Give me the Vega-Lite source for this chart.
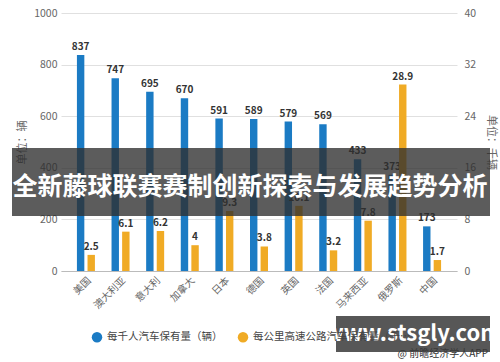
{
  "$schema": "https://vega.github.io/schema/vega-lite/v6.json",
  "width": 396,
  "height": 258,
  "padding": {"left": 12, "right": 5, "top": 8, "bottom": 5},
  "background": "white",
  "config": {
    "view": {"stroke": null},
    "font": "Noto Sans CJK SC",
    "axis": {"labelColor": "#666", "labelFontSize": 10.5, "titleColor": "#666", "titleFontSize": 11, "titleFontWeight": "normal", "gridColor": "#e0e0e0", "tickColor": "#cccccc", "domainColor": "#bbbbbb"}
  },
  "datasets": {
    "bars": [
      {"country": "美国", "series": "每千人汽车保有量（辆）", "value": 837},
      {"country": "澳大利亚", "series": "每千人汽车保有量（辆）", "value": 747},
      {"country": "意大利", "series": "每千人汽车保有量（辆）", "value": 695},
      {"country": "加拿大", "series": "每千人汽车保有量（辆）", "value": 670},
      {"country": "日本", "series": "每千人汽车保有量（辆）", "value": 591},
      {"country": "德国", "series": "每千人汽车保有量（辆）", "value": 589},
      {"country": "英国", "series": "每千人汽车保有量（辆）", "value": 579},
      {"country": "法国", "series": "每千人汽车保有量（辆）", "value": 569},
      {"country": "马来西亚", "series": "每千人汽车保有量（辆）", "value": 433},
      {"country": "俄罗斯", "series": "每千人汽车保有量（辆）", "value": 373},
      {"country": "中国", "series": "每千人汽车保有量（辆）", "value": 173},
      {"country": "美国", "series": "每公里高速公路汽车保有量（千辆）", "value": 2.5},
      {"country": "澳大利亚", "series": "每公里高速公路汽车保有量（千辆）", "value": 6.1},
      {"country": "意大利", "series": "每公里高速公路汽车保有量（千辆）", "value": 6.2},
      {"country": "加拿大", "series": "每公里高速公路汽车保有量（千辆）", "value": 4},
      {"country": "日本", "series": "每公里高速公路汽车保有量（千辆）", "value": 9.3},
      {"country": "德国", "series": "每公里高速公路汽车保有量（千辆）", "value": 3.8},
      {"country": "英国", "series": "每公里高速公路汽车保有量（千辆）", "value": 10.1},
      {"country": "法国", "series": "每公里高速公路汽车保有量（千辆）", "value": 3.2},
      {"country": "马来西亚", "series": "每公里高速公路汽车保有量（千辆）", "value": 7.8},
      {"country": "俄罗斯", "series": "每公里高速公路汽车保有量（千辆）", "value": 28.9},
      {"country": "中国", "series": "每公里高速公路汽车保有量（千辆）", "value": 1.7}
    ],
    "banner": [{"text": "全新藤球联赛赛制创新探索与发展趋势分析"}],
    "mark": [{"text": "www.stsgly.com", "credit": "@ 前瞻经济学人APP"}]
  },
  "layer": [
    {
      "data": {"name": "bars"},
      "transform": [{"filter": "datum.series === '每千人汽车保有量（辆）'"}],
      "encoding": {
        "x": {
          "field": "country", "type": "nominal", "sort": null,
          "scale": {"paddingInner": 0.48, "paddingOuter": 0.46},
          "axis": {"title": null, "labelAngle": -45, "ticks": false, "labelPadding": 4, "domain": true, "grid": false, "labelFontSize": 10}
        },
        "xOffset": {"field": "series", "type": "nominal", "sort": null, "scale": {"domain": ["每千人汽车保有量（辆）", "每公里高速公路汽车保有量（千辆）"], "paddingInner": 0.3}},
        "y": {
          "field": "value", "type": "quantitative",
          "scale": {"domain": [0, 1000]},
          "axis": {"title": "单位：辆", "values": [0, 200, 400, 600, 800, 1000], "format": "d", "domain": false, "ticks": false, "labelPadding": 4, "titlePadding": 6}
        }
      },
      "layer": [
        {
          "mark": {"type": "bar"},
          "encoding": {
            "color": {
              "field": "series", "type": "nominal", "sort": null,
              "scale": {"domain": ["每千人汽车保有量（辆）", "每公里高速公路汽车保有量（千辆）"], "range": ["#1b7bc4", "#f0ab25"]},
              "legend": {"orient": "none", "legendX": 30, "legendY": 318, "direction": "horizontal", "title": null, "symbolType": "circle", "symbolSize": 110, "labelFontSize": 10.5, "labelColor": "#444", "columnPadding": 14}
            }
          }
        },
        {
          "mark": {"type": "text", "dy": -8, "fontSize": 10, "fontWeight": "bold", "color": "#333"},
          "encoding": {"text": {"field": "value", "type": "quantitative"}}
        }
      ]
    },
    {
      "data": {"name": "bars"},
      "transform": [{"filter": "datum.series === '每公里高速公路汽车保有量（千辆）'"}],
      "encoding": {
        "x": {"field": "country", "type": "nominal", "sort": null},
        "xOffset": {"field": "series", "type": "nominal", "sort": null},
        "y": {
          "field": "value", "type": "quantitative",
          "scale": {"domain": [0, 40]},
          "axis": {"orient": "right", "title": "单位：千辆", "values": [0, 8, 16, 24, 32, 40], "domain": false, "grid": false, "ticks": false, "labelPadding": 7, "titlePadding": 10}
        }
      },
      "layer": [
        {
          "mark": {"type": "bar"},
          "encoding": {
            "color": {"field": "series", "type": "nominal", "sort": null}
          }
        },
        {
          "mark": {"type": "text", "dy": -8, "fontSize": 10, "fontWeight": "bold", "color": "#333"},
          "encoding": {"text": {"field": "value", "type": "quantitative"}}
        }
      ]
    },
    {
      "data": {"name": "banner"},
      "layer": [
        {
          "mark": {"type": "rect", "color": "#2e2e2e", "opacity": 0.78},
          "encoding": {"x": {"value": -49}, "x2": {"value": 429}, "y": {"value": 135}, "y2": {"value": 203}}
        },
        {
          "mark": {"type": "text", "color": "white", "fontSize": 25, "fontWeight": "bold", "align": "center", "baseline": "middle"},
          "encoding": {"x": {"value": 189}, "y": {"value": 174}, "text": {"field": "text"}}
        }
      ]
    },
    {
      "data": {"name": "mark"},
      "layer": [
        {
          "mark": {"type": "text", "color": "#333", "fontSize": 10, "align": "right", "baseline": "middle"},
          "encoding": {"x": {"value": 427}, "y": {"value": 341}, "text": {"field": "credit"}}
        },
        {
          "mark": {"type": "rect", "color": "#3a3a3a", "opacity": 0.85},
          "encoding": {"x": {"value": 275}, "x2": {"value": 429}, "y": {"value": 303}, "y2": {"value": 339}}
        },
        {
          "mark": {"type": "text", "color": "white", "fontSize": 22, "fontWeight": "bold", "align": "center", "baseline": "middle"},
          "encoding": {"x": {"value": 352}, "y": {"value": 321}, "text": {"field": "text"}}
        }
      ]
    }
  ],
  "resolve": {"scale": {"y": "independent"}}
}
